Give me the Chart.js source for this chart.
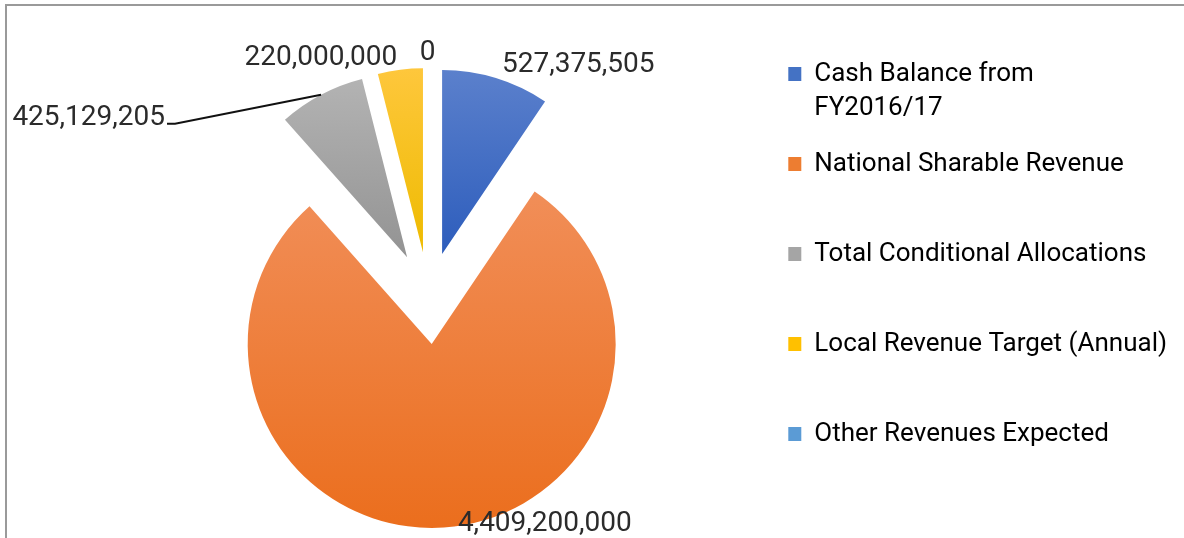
<!DOCTYPE html>
<html lang="en">
<head>
<meta charset="UTF-8">
<title>Revenue Sources</title>
<script src="https://cdn.jsdelivr.net/npm/chart.js"></script>
<style>
  html, body { margin: 0; padding: 0; background: #fff; overflow: hidden; }
  #wrap { position: absolute; left: 0; top: 0; width: 1184px; height: 557px; }
  #frame { position: absolute; left: 5px; top: 4px; width: 1300px; height: 700px;
           border-top: 2px solid #9a9a9a; border-left: 2px solid #9a9a9a; pointer-events: none; }
</style>
</head>
<body>
<div id="wrap"><canvas id="chart"></canvas></div>
<div id="frame"></div>
<script>
const categories = ['Cash Balance from FY2016/17', 'National Sharable Revenue', 'Total Conditional Allocations',
                    'Local Revenue Target (Annual)', 'Other Revenues Expected'];
// legend rows: two lines each so every row gets the same height
const legendText = [['Cash Balance from', 'FY2016/17'], ['National Sharable Revenue', ''],
                    ['Total Conditional Allocations', ''], ['Local Revenue Target (Annual)', ''],
                    ['Other Revenues Expected', '']];
const amounts = [527375505, 4409200000, 425129205, 220000000, 0];

const swatch = ['#4472c4', '#ed7d31', '#a5a5a5', '#ffc000', '#5b9bd5'];
const shadeTop = ['#5b80cc', '#f18e58', '#b3b3b3', '#fec73c', '#78aee0'];
const shadeBottom = ['#2d5dbc', '#eb6e1d', '#939393', '#eebb00', '#3f86c8'];

// value label placement relative to the slice's outer edge
const labelAlign = ['left', 'left', 'right', 'right', 'center'];
const labelNudge = [[6, -6], [14, 4], [-156, 30], [-3, -5], [-1, -8]];
const leader = [false, false, true, false, false];

const explode = 46;
const pieRadius = 184;
const textColor = '#2b2b2b';

const explodePlugin = {
  id: 'explode',
  afterDatasetsUpdate(chart) {
    chart.getDatasetMeta(0).data.forEach(arc => {
      const mid = (arc.startAngle + arc.endAngle) / 2;
      arc.x += Math.cos(mid) * explode;
      arc.y += Math.sin(mid) * explode;
    });
  },
  beforeDatasetsDraw(chart) {
    const ctx = chart.ctx;
    chart.getDatasetMeta(0).data.forEach((arc, i) => {
      let top = arc.y, bottom = arc.y;
      for (let k = 0; k <= 48; k++) {
        const a = arc.startAngle + (arc.endAngle - arc.startAngle) * k / 48;
        const y = arc.y + Math.sin(a) * arc.outerRadius;
        top = Math.min(top, y);
        bottom = Math.max(bottom, y);
      }
      const g = ctx.createLinearGradient(0, top, 0, Math.max(bottom, top + 1));
      g.addColorStop(0, shadeTop[i]);
      g.addColorStop(1, shadeBottom[i]);
      arc.options.backgroundColor = g;
    });
  }
};

const valueLabels = {
  id: 'valueLabels',
  afterDatasetsDraw(chart) {
    const ctx = chart.ctx;
    const values = chart.data.datasets[0].data;
    ctx.save();
    ctx.font = '28px Roboto';
    ctx.fillStyle = textColor;
    ctx.strokeStyle = '#111';
    ctx.lineWidth = 2;
    ctx.textBaseline = 'alphabetic';
    chart.getDatasetMeta(0).data.forEach((arc, i) => {
      const mid = (arc.startAngle + arc.endAngle) / 2;
      const ex = arc.x + Math.cos(mid) * arc.outerRadius;
      const ey = arc.y + Math.sin(mid) * arc.outerRadius;
      const tx = ex + labelNudge[i][0];
      const ty = ey + labelNudge[i][1];
      if (leader[i]) {
        ctx.beginPath();
        ctx.moveTo(ex, ey);
        ctx.lineTo(tx + 10, ty - 1);
        ctx.lineTo(tx + 2, ty - 1);
        ctx.stroke();
      }
      ctx.textAlign = labelAlign[i];
      ctx.fillText(values[i].toLocaleString('en-US'), tx, ty);
    });
    ctx.restore();
  }
};

new Chart(document.getElementById('chart'), {
  type: 'pie',
  data: {
    labels: categories,
    datasets: [{
      data: amounts,
      backgroundColor: c => swatch[c.dataIndex],
      borderWidth: 0,
      offset: 0,
      hoverOffset: 0,
      radius: pieRadius
    }]
  },
  options: {
    responsive: true,
    maintainAspectRatio: false,
    animation: false,
    events: [],
    layout: { padding: { left: 91, right: 7, top: 39, bottom: 0 } },
    plugins: {
      tooltip: { enabled: false },
      legend: {
        position: 'right',
        align: 'start',
        labels: {
          font: { family: 'Roboto', size: 26, lineHeight: '34px' },
          color: textColor,
          boxWidth: 13,
          boxHeight: 14,
          padding: 22,
          generateLabels: () => legendText.map((t, i) => ({
            text: t, fillStyle: swatch[i], strokeStyle: swatch[i], lineWidth: 0, hidden: false, index: i
          }))
        }
      }
    }
  },
  plugins: [explodePlugin, valueLabels]
});
</script>
</body>
</html>
